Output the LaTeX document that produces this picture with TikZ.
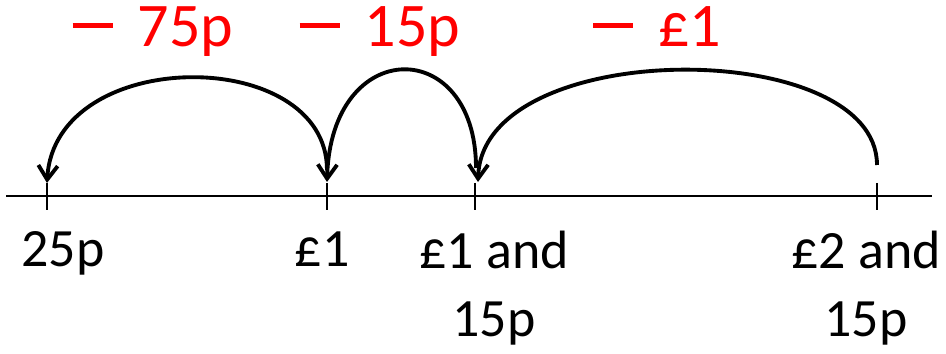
\documentclass[tikz,border=0pt]{standalone}
\usepackage{fontspec}
\setmainfont{Carlito}
\usetikzlibrary{arrows.meta}
\definecolor{jumpred}{RGB}{255, 0, 0}
\newcommand{\takeaway}{\rule[0.31em]{0.65em}{0.075em}\hspace{0.4em}}
\tikzset{
  axisline/.style={line width=1.6pt},
  jumparc/.style={line width=2.2pt},
  numlabel/.style={font=\fontsize{30.7}{39}\selectfont, align=center, inner sep=0pt, anchor=base},
  jumplabel/.style={font=\fontsize{35.3}{40}\selectfont, text=jumpred, inner sep=0pt, anchor=base}
}

\begin{document}
\begin{tikzpicture}[x=0.02cm, y=-0.02cm, >={Straight Barb[length=8pt, width=11pt]}]
    \useasboundingbox (0,0) rectangle (946,354);
    % number line and ticks
    \coordinate (l0) at (6,196);
    \coordinate (l1) at (932,196);
    \draw[axisline] (l0) -- (l1);
    \foreach \n/\x in {a/47, b/327, c/475, d/877} {
      \coordinate (\n) at (\x,196);
      \draw[axisline] (\x,183) -- (\x,210);
    }
    % values (base = last line)
    \node[numlabel] (va) at (63,267) {25p};
    \node[numlabel] (vb) at (322,267) {£1};
    \node[numlabel] (vc) at (494,337) {£1 and\\15p};
    \node[numlabel] (vd) at (866,337) {£2 and\\15p};
    % jumps
    \coordinate (d0) at (877,165);
    \coordinate (c1) at (478,182);
    \coordinate (c0) at (476,168);
    \coordinate (b1) at (327,182);
    \coordinate (b0) at (327,170);
    \coordinate (a1) at (47,183);
    \draw[->, jumparc] (d0) .. controls +(0,-129) and +(4,-146) .. (c1);
    \draw[->, jumparc] (c0) .. controls +(0,-133) and +(4,-147) .. (b1);
    \draw[->, jumparc] (b0) .. controls +(0,-125) and +(8,-138) .. (a1);
    \node[jumplabel] (ja) at (153,47) {\takeaway 75p};
    \node[jumplabel] (jb) at (380,47) {\takeaway 15p};
    \node[jumplabel] (jc) at (657,47) {\takeaway £1};
  \end{tikzpicture}
\end{document}
